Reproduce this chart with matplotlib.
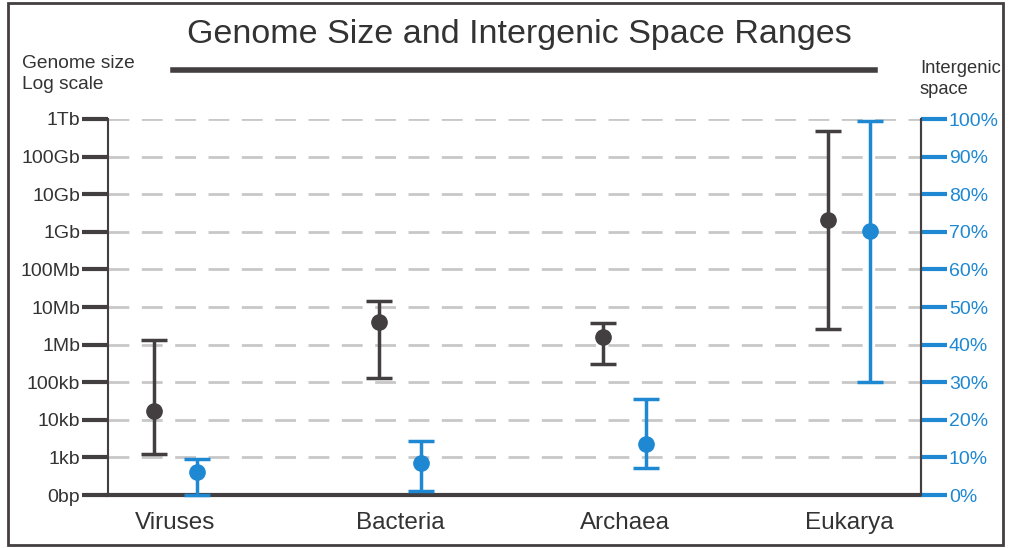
import numpy as np
import matplotlib.pyplot as plt
from matplotlib.patches import Rectangle
from matplotlib.lines import Line2D

plt.rcParams["font.family"] = ["Liberation Sans", "DejaVu Sans"]

DARK = "#433f40"
BLUE = "#1e88d2"
GRID = "#c8c8c8"

categories = ["Viruses", "Bacteria", "Archaea", "Eukarya"]

# genome size in bp (mean, low, high)
genome_mid = [1.7e4, 4.0e6, 1.6e6, 2.0e9]
genome_low = [1.2e3, 1.3e5, 3.0e5, 2.6e6]
genome_high = [1.3e6, 1.45e7, 3.7e6, 4.8e11]

# intergenic space in % (mean, low, high)
inter_mid = [6.1, 8.5, 13.6, 70.2]
inter_low = [0.0, 1.0, 7.2, 30.0]
inter_high = [9.6, 14.4, 25.5, 99.5]

genome_ticks = [1e2, 1e3, 1e4, 1e5, 1e6, 1e7, 1e8, 1e9, 1e10, 1e11, 1e12]
genome_tick_labels = ["0bp", "1kb", "10kb", "100kb", "1Mb", "10Mb",
                      "100Mb", "1Gb", "10Gb", "100Gb", "1Tb"]
pct_ticks = list(range(0, 101, 10))


def main() -> None:
    W, H = 1011, 548
    fig = plt.figure(figsize=(W / 100, H / 100), dpi=100)

    # outer frame
    fig.patches.append(Rectangle((8 / W, 3 / H), 995 / W, 542 / H,
                                 transform=fig.transFigure, fill=False,
                                 edgecolor=DARK, linewidth=2))

    ax = fig.add_axes([108 / W, (H - 495) / H, (921 - 108) / W, (495 - 119) / H])
    ax.set_yscale("log")
    ax.set_ylim(1e2, 1e12)
    ax.set_xlim(-0.30, 3.32)
    ax.patch.set_alpha(0)

    x = np.arange(len(categories))
    off = 0.095

    ax.yaxis.grid(True, color=GRID, linestyle=(0, (7.5, 4.5)), linewidth=2)
    ax.set_axisbelow(True)

    g_mid = np.array(genome_mid)
    g_err = [g_mid - np.array(genome_low), np.array(genome_high) - g_mid]
    ax.errorbar(x - off, g_mid, yerr=g_err, fmt="o", color=DARK,
                markersize=11, elinewidth=2.5, capsize=9.5, capthick=2.5, zorder=3)

    ax.set_yticks(genome_ticks)
    ax.set_yticklabels(genome_tick_labels)
    ax.yaxis.set_minor_locator(plt.NullLocator())
    ax.tick_params(axis="y", length=19, width=3, color=DARK, labelsize=14,
                   labelcolor="#333333", pad=1)
    ax.set_xticks(x)
    ax.set_xticklabels(categories)
    ax.tick_params(axis="x", length=0, labelsize=17.5, labelcolor="#333333", pad=12)

    ax.spines["top"].set_visible(False)
    ax.spines["left"].set_color(DARK)
    ax.spines["left"].set_linewidth(1.5)
    ax.spines["right"].set_color(DARK)
    ax.spines["right"].set_linewidth(1.5)
    ax.spines["bottom"].set_color(DARK)
    ax.spines["bottom"].set_linewidth(3)

    ax2 = ax.twinx()
    ax2.set_ylim(0, 100)
    i_mid = np.array(inter_mid)
    i_err = [i_mid - np.array(inter_low), np.array(inter_high) - i_mid]
    ax2.errorbar(x + off, i_mid, yerr=i_err, fmt="o", color=BLUE,
                 markersize=11, elinewidth=2.5, capsize=9.5, capthick=2.5,
                 zorder=3, clip_on=False)
    ax2.set_yticks(pct_ticks)
    ax2.set_yticklabels([f"{p}%" for p in pct_ticks])
    ax2.tick_params(axis="y", length=19, width=3, color=BLUE, labelsize=14,
                    labelcolor=BLUE, pad=1)
    for side in ["top", "left", "bottom"]:
        ax2.spines[side].set_visible(False)
    ax2.spines["right"].set_color(DARK)
    ax2.spines["right"].set_linewidth(1.5)

    # title and underline
    fig.text(519 / W, 1 - 35 / H, "Genome Size and Intergenic Space Ranges",
             ha="center", va="center", fontsize=24.5, color="#333333")
    fig.add_artist(Line2D([173 / W, 875 / W], [1 - 70 / H, 1 - 70 / H],
                          transform=fig.transFigure, color=DARK, linewidth=4))

    fig.text(22 / W, 1 - 74 / H, "Genome size\nLog scale", ha="left", va="center",
             fontsize=13.8, color="#333333", linespacing=1.3)
    fig.text(920 / W, 1 - 79 / H, "Intergenic\nspace", ha="left", va="center",
             fontsize=13.2, color="#333333", linespacing=1.3)

    fig.savefig("out.png", dpi=100)
    plt.close(fig)


if __name__ == "__main__":
    main()
